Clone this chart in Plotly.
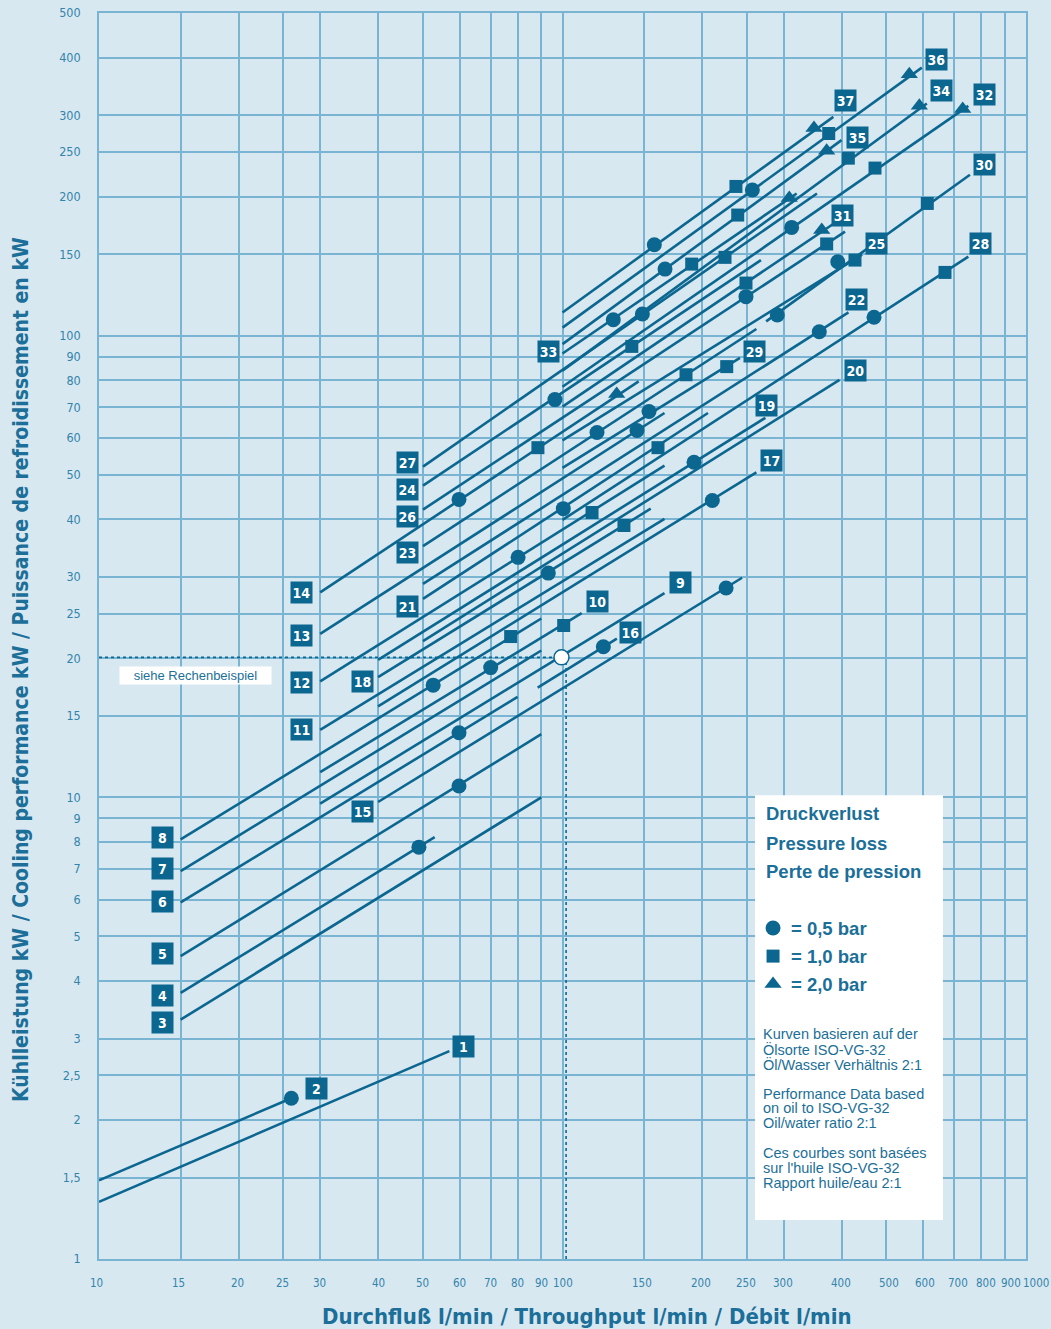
import numpy as np
import plotly.graph_objects as go

# ---- performance lines: flow (l/min) and cooling power (kW) at both ends ----
line_ids = list(range(1, 38))
x_start = [10, 10, 15, 15, 15, 15, 15, 15, 30, 30,
           30, 30, 30, 30, 40, 88.4, 40, 40, 40, 50,
           50, 50, 50, 50, 100, 50, 50, 100, 100, 275,
           100, 100, 100, 100, 100, 100, 100]
y_start = [1.33, 1.48, 3.30, 3.77, 4.53, 5.92, 6.92, 8.11, 9.69, 11.34,
           14.0, 17.83, 22.6, 27.8, 9.77, 17.28, 15.74, 18.21, 19.86, 21.8,
           26.9, 29.0, 35.0, 47.35, 59.3, 42.0, 52.05, 39.9, 51.7, 107.4,
           70.2, 77.5, 91.5, 84.0, 95.9, 104.1, 112.3]
x_end = [57, 26, 90, 53, 90, 80, 90, 90, 166, 110,
         166, 166, 166, 146, 244, 131, 262, 155, 274, 396,
         206, 414, 262, 268, 443, 407, 354, 751, 241.5, 757,
         393, 751, 320, 611, 400, 596, 384]
y_end = [2.82, 2.23, 10.0, 8.2, 13.7, 16.5, 20.8, 24.4, 27.7, 25.05,
         40.1, 52.3, 68.0, 79.6, 29.9, 22.06, 50.6, 42.2, 66.4, 80.2,
         68.0, 112.3, 103.4, 145.8, 149.8, 168.0, 203.2, 148.3, 89.5, 223.1,
         177.4, 314.7, 203.2, 318.3, 265.2, 380.8, 297.9]

# ---- pressure-loss points ----
circle_x = [26, 49.0, 59.8, 59.8, 52.6, 70.0, 80.2, 144.8, 59.8, 225.4,
            122.5, 210.5, 93.2, 192.2, 100.4, 358.1, 118.7, 96.3, 392.5, 248.8,
            148.7, 470, 153.7, 290.7, 312.2, 128.7, 166.4, 256.8, 157.8]
circle_y = [2.23, 7.8, 10.58, 13.8, 17.5, 19.1, 33.1, 62.3, 44.2, 28.4,
            21.2, 43.95, 30.6, 53.2, 42.2, 102.0, 61.7, 72.7, 144.6, 121.5,
            111.4, 109.6, 68.5, 110.9, 171.6, 108.3, 139.4, 206.8, 157.4]
square_x = [77.3, 100.6, 115.8, 88.5, 135.7, 160.7, 184.7, 141.1, 427.6, 371.5,
            224.2, 668.7, 226.1, 612.4, 248.8, 472.3, 190.0, 413.7, 238.8, 375.3,
            236.7]
square_y = [22.3, 23.56, 41.4, 57.2, 38.8, 57.2, 82.3, 94.8, 145.8, 158.0,
            147.8, 137.1, 85.7, 193.4, 130.0, 230.7, 142.9, 242.4, 182.5, 274.1,
            210.5]
tri_x = [130.9, 362.5, 730.2, 308.5, 588.7, 371.5, 560.1, 348.8]
tri_y = [74.8, 169.3, 309.6, 198.6, 314.7, 251.4, 368.6, 281.6]

# ---- number tags ----
tag_x = [61.0, 29.4, 13.74, 13.74, 13.74, 13.74, 13.74, 13.74, 179.3, 118.7,
         27.3, 27.3, 27.3, 27.3, 37.07, 140.5, 282.7, 37.07, 275.8, 429,
         46.3, 431.2, 46.3, 46.3, 474.7, 46.3, 46.3, 798.7, 259, 812.8,
         401.6, 812.8, 93.2, 657.8, 432.5, 641.7, 407]
tag_y = [2.89, 2.345, 3.26, 3.73, 4.60, 5.96, 7.02, 8.19, 29.2, 26.6,
         14.0, 17.7, 22.4, 27.8, 9.33, 22.8, 53.6, 17.85, 70.6, 84.0,
         25.95, 119.7, 33.9, 46.4, 158.7, 40.6, 53.0, 158.5, 92.3, 235.3,
         181.8, 333.6, 92.3, 339.1, 268.7, 395.8, 322.6]

# ---- worked example ----
example_flow = 99.5
example_power = 20.1
example_guide_x = 101.8

# ---- axis ticks ----
x_ticks = [10, 15, 20, 25, 30, 40, 50, 60, 70, 80, 90, 100, 150, 200, 250, 300,
           400, 500, 600, 700, 800, 900, 1000]
x_tick_text = ["10", "15", "20", "25", "30", "40", "50", "60", "70", "80", "90", "100",
               "150", "200", "250", "300", "400", "500", "600", "700", "800", "900", "1000"]
# small horizontal nudges of the flow labels (px), as typeset
x_tick_nudge = [-3, -2, -1, -1, -1, 0, 0, 0, 0, 0, 0, 0,
                -2, -1, -1, -1, -1, 3, 2, 4, 5, 6, 10]
y_ticks = [1, 1.5, 2, 2.5, 3, 4, 5, 6, 7, 8, 9, 10, 15, 20, 25, 30, 40, 50, 60, 70,
           80, 90, 100, 150, 200, 250, 300, 400, 500]
y_tick_text = ["1", "1,5", "2", "2,5", "3", "4", "5", "6", "7", "8", "9", "10", "15", "20",
               "25", "30", "40", "50", "60", "70", "80", "90", "100", "150", "200", "250",
               "300", "400", "500"]

# white key panel (flow range, kW range)
panel_x = [260.2, 662.1]
panel_y = [1.215, 10.1]

# legend key positions (flow, kW) inside the white panel
key_x = [284.6, 284.6, 284.6]
key_y = [5.21, 4.53, 3.94]
key_symbols = ["circle", "square", "triangle-up"]
key_text = ["= 0,5 bar", "= 1,0 bar", "= 2,0 bar"]

INK = "#0b6690"
BG = "#d8e8f1"
GRID = "#79b5d3"
TXT = "#1b6f98"
TICK = "#3384ab"
NARROW = "Liberation Sans Narrow, DejaVu Sans Condensed, Arial Narrow, sans-serif"
SANS = "Liberation Sans, Arial, Helvetica, sans-serif"

fig = go.Figure()

# key panel drawn first so it sits over the grid but under everything else
fig.add_trace(go.Scatter(x=[panel_x[0], panel_x[1], panel_x[1], panel_x[0], panel_x[0]],
                         y=[panel_y[0], panel_y[0], panel_y[1], panel_y[1], panel_y[0]],
                         mode="lines", fill="toself", fillcolor="white",
                         line=dict(width=0, color="white"),
                         hoverinfo="skip", showlegend=False))

for lid, xs, ys, xe, ye in zip(line_ids, x_start, y_start, x_end, y_end):
    fig.add_trace(go.Scatter(x=[xs, xe], y=[ys, ye], mode="lines",
                             line=dict(color=INK, width=2.6),
                             hoverinfo="skip", showlegend=False, name=str(lid)))

# worked-example guide lines
fig.add_trace(go.Scatter(x=[10, example_flow], y=[example_power, example_power], mode="lines",
                         line=dict(color=INK, width=1.6, dash="dot"),
                         hoverinfo="skip", showlegend=False))
fig.add_trace(go.Scatter(x=[example_guide_x, example_guide_x], y=[1, example_power], mode="lines",
                         line=dict(color=INK, width=1.6, dash="dot"),
                         hoverinfo="skip", showlegend=False))

fig.add_trace(go.Scatter(x=circle_x, y=circle_y, mode="markers",
                         marker=dict(symbol="circle", size=15, color=INK, opacity=1, line=dict(width=0)),
                         hoverinfo="skip", showlegend=False))
fig.add_trace(go.Scatter(x=square_x, y=square_y, mode="markers",
                         marker=dict(symbol="square", size=13, color=INK, opacity=1, line=dict(width=0)),
                         hoverinfo="skip", showlegend=False))
fig.add_trace(go.Scatter(x=tri_x, y=tri_y, mode="markers",
                         marker=dict(symbol="triangle-up", size=15, color=INK, opacity=1, line=dict(width=0)),
                         hoverinfo="skip", showlegend=False))

fig.add_trace(go.Scatter(x=[example_flow], y=[example_power], mode="markers",
                         marker=dict(symbol="circle", size=15, color="white", opacity=1,
                                     line=dict(width=1.5, color=INK)),
                         hoverinfo="skip", showlegend=False))

# legend keys
fig.add_trace(go.Scatter(x=key_x, y=key_y, mode="markers",
                         marker=dict(symbol=key_symbols, size=[15, 13, 15], color=INK,
                                     opacity=1, line=dict(width=0)),
                         hoverinfo="skip", showlegend=False))

annotations = []
for lid, tx, ty in zip(line_ids, tag_x, tag_y):
    annotations.append(dict(x=np.log10(tx), y=np.log10(ty), xref="x", yref="y",
                            xanchor="center", yanchor="middle",
                            text=f"<b>{lid}</b>", showarrow=False,
                            font=dict(color="white", size=14, family=NARROW),
                            bgcolor=INK, width=19, height=19, borderpad=1,
                            align="center", valign="middle"))


def px_x(px):
    return (px - 99) / 927


def px_y(py):
    return (1259 - py) / 1246


# flow tick labels
for val, txt, nudge in zip(x_ticks, x_tick_text, x_tick_nudge):
    annotations.append(dict(x=np.log10(val), y=px_y(1283), xref="x", yref="paper",
                            xanchor="center", yanchor="middle", xshift=nudge,
                            text=txt, showarrow=False,
                            font=dict(color=TICK, size=11.5, family=NARROW)))

annotations.append(dict(x=px_x(195), y=px_y(675.5), xref="paper", yref="paper",
                        xanchor="center", yanchor="middle",
                        text="siehe Rechenbeispiel", showarrow=False,
                        font=dict(color=TXT, size=13, family=SANS),
                        bgcolor="white", width=149, height=15, borderpad=1))

for text, py in [("Druckverlust", 814), ("Pressure loss", 843), ("Perte de pression", 871)]:
    annotations.append(dict(x=px_x(764), y=px_y(py), xref="paper", yref="paper",
                            xanchor="left", yanchor="middle", text=f"<b>{text}</b>",
                            showarrow=False, font=dict(color=TXT, size=18.5, family=SANS)))

for text, py in zip(key_text, [928, 956, 984]):
    annotations.append(dict(x=px_x(789), y=px_y(py), xref="paper", yref="paper",
                            xanchor="left", yanchor="middle", text=f"<b>{text}</b>",
                            showarrow=False, font=dict(color=TXT, size=18.5, family=SANS)))

notes = [("Kurven basieren auf der", 1034), ("Ölsorte ISO-VG-32", 1049),
         ("Öl/Wasser Verhältnis 2:1", 1064),
         ("Performance Data based", 1094), ("on oil to ISO-VG-32", 1108),
         ("Oil/water ratio 2:1", 1123),
         ("Ces courbes sont basées", 1153), ("sur l'huile ISO-VG-32", 1168),
         ("Rapport huile/eau 2:1", 1183)]
for text, py in notes:
    annotations.append(dict(x=px_x(761), y=px_y(py), xref="paper", yref="paper",
                            xanchor="left", yanchor="middle", text=text,
                            showarrow=False, font=dict(color=TXT, size=14.5, family=SANS)))

annotations.append(dict(x=px_x(587), y=px_y(1316), xref="paper", yref="paper",
                        xanchor="center", yanchor="middle",
                        text="<b>Durchfluß l/min / Throughput l/min / Débit l/min</b>",
                        showarrow=False, font=dict(color=TXT, size=22, family=NARROW)))
annotations.append(dict(x=px_x(21), y=px_y(670), xref="paper", yref="paper",
                        xanchor="center", yanchor="middle",
                        text="<b>Kühlleistung kW / Cooling performance kW / Puissance de refroidissement en kW</b>",
                        textangle=-90, showarrow=False,
                        font=dict(color=TXT, size=21, family=NARROW)))

fig.update_layout(
    width=1051, height=1329,
    margin=dict(l=99, r=25, t=13, b=70),
    paper_bgcolor=BG, plot_bgcolor=BG,
    showlegend=False,
    annotations=annotations,
    xaxis=dict(type="log", range=[1, 3], tickvals=x_ticks, showticklabels=False,
               showgrid=True, gridcolor=GRID, gridwidth=1.6, zeroline=False,
               showline=True, linecolor=GRID, linewidth=1.6, mirror=True,
               ticks="", automargin=False),
    yaxis=dict(type="log", range=[0, np.log10(500)], tickvals=y_ticks, ticktext=y_tick_text,
               showgrid=True, gridcolor=GRID, gridwidth=2, zeroline=False,
               showline=True, linecolor=GRID, linewidth=1.6, mirror=True,
               ticks="", ticklabelstandoff=14, automargin=False,
               tickfont=dict(color=TICK, size=12.5, family=NARROW)),
)

fig.write_html("out.html")
